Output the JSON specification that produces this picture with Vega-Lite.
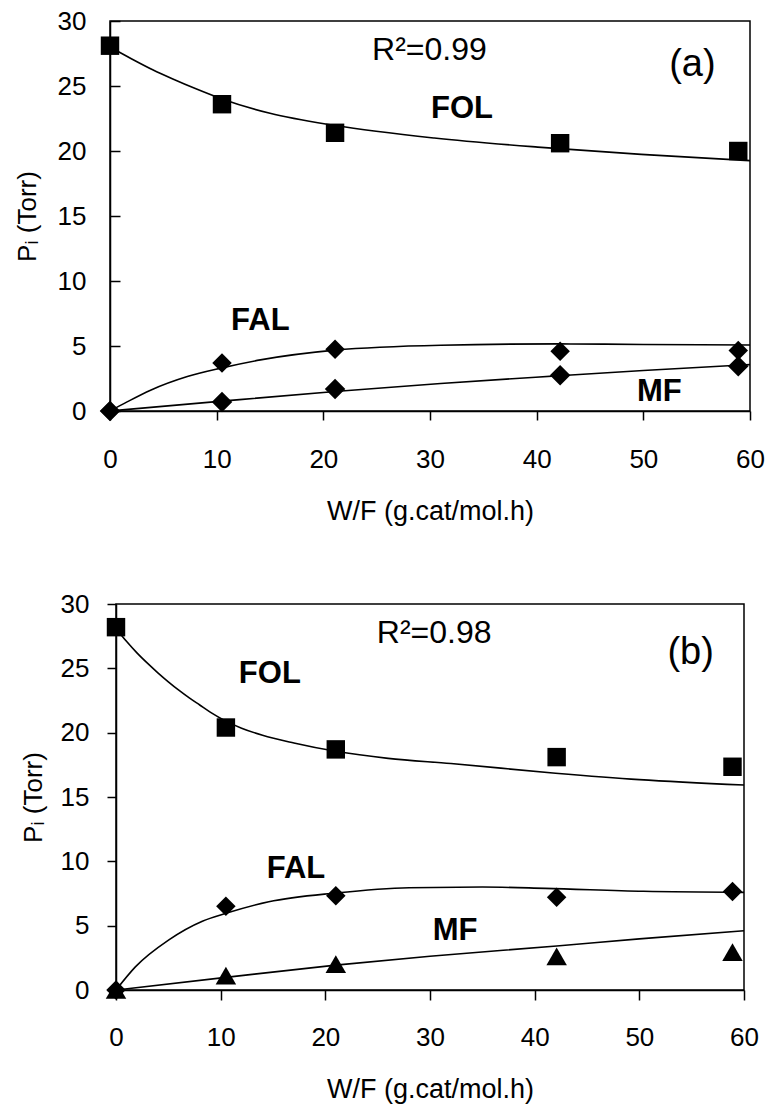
{
  "$schema": "https://vega.github.io/schema/vega-lite/v6.json",
  "background": "white",
  "padding": {"left": 13, "top": 7, "right": 5, "bottom": 5},
  "bounds": "flush",
  "center": true,
  "spacing": 193,
  "datasets": {
    "obs_a": [
      {"x": 0, "y": 28.1, "s": "FOL"}, {"x": 10.5, "y": 23.6, "s": "FOL"}, {"x": 21.1, "y": 21.4, "s": "FOL"}, {"x": 42.2, "y": 20.6, "s": "FOL"}, {"x": 58.9, "y": 20.0, "s": "FOL"},
      {"x": 0, "y": 0, "s": "FAL"}, {"x": 10.5, "y": 3.7, "s": "FAL"}, {"x": 21.1, "y": 4.75, "s": "FAL"}, {"x": 42.2, "y": 4.6, "s": "FAL"}, {"x": 58.9, "y": 4.65, "s": "FAL"},
      {"x": 0, "y": 0, "s": "MF"}, {"x": 10.5, "y": 0.7, "s": "MF"}, {"x": 21.1, "y": 1.7, "s": "MF"}, {"x": 42.2, "y": 2.75, "s": "MF"}, {"x": 58.9, "y": 3.45, "s": "MF"}
    ],
    "fit_a": [
      {"x": 0, "y": 28.0, "s": "FOL"}, {"x": 2, "y": 27.1, "s": "FOL"}, {"x": 4, "y": 26.25, "s": "FOL"}, {"x": 6, "y": 25.5, "s": "FOL"}, {"x": 8, "y": 24.8, "s": "FOL"}, {"x": 10.5, "y": 24.0, "s": "FOL"}, {"x": 15, "y": 22.9, "s": "FOL"}, {"x": 21.1, "y": 21.96, "s": "FOL"}, {"x": 30.4, "y": 21.0, "s": "FOL"}, {"x": 40.1, "y": 20.3, "s": "FOL"}, {"x": 49.8, "y": 19.74, "s": "FOL"}, {"x": 60, "y": 19.26, "s": "FOL"},
      {"x": 0, "y": 0, "s": "FAL"}, {"x": 1.6, "y": 0.7, "s": "FAL"}, {"x": 3.8, "y": 1.6, "s": "FAL"}, {"x": 7.25, "y": 2.65, "s": "FAL"}, {"x": 10.4, "y": 3.3, "s": "FAL"}, {"x": 14.1, "y": 3.93, "s": "FAL"}, {"x": 21.1, "y": 4.68, "s": "FAL"}, {"x": 31, "y": 5.06, "s": "FAL"}, {"x": 42.2, "y": 5.16, "s": "FAL"}, {"x": 50, "y": 5.12, "s": "FAL"}, {"x": 60, "y": 5.08, "s": "FAL"},
      {"x": 0, "y": 0, "s": "MF"}, {"x": 10.5, "y": 0.76, "s": "MF"}, {"x": 21.1, "y": 1.5, "s": "MF"}, {"x": 31, "y": 2.12, "s": "MF"}, {"x": 42.2, "y": 2.72, "s": "MF"}, {"x": 50, "y": 3.12, "s": "MF"}, {"x": 60, "y": 3.57, "s": "MF"}
    ],
    "lab_a": [
      {"x": 29.95, "y": 27.8, "t": "R²=0.99", "k": "r"},
      {"x": 54.6, "y": 26.6, "t": "(a)", "k": "p"},
      {"x": 33.0, "y": 23.25, "t": "FOL", "k": "b"},
      {"x": 14.1, "y": 6.93, "t": "FAL", "k": "b"},
      {"x": 51.5, "y": 1.5, "t": "MF", "k": "b"}
    ],
    "obs_b": [
      {"x": 0, "y": 28.2, "s": "FOL"}, {"x": 10.5, "y": 20.4, "s": "FOL"}, {"x": 21, "y": 18.7, "s": "FOL"}, {"x": 42.1, "y": 18.1, "s": "FOL"}, {"x": 58.9, "y": 17.35, "s": "FOL"},
      {"x": 0, "y": 0, "s": "FAL"}, {"x": 10.5, "y": 6.5, "s": "FAL"}, {"x": 21, "y": 7.33, "s": "FAL"}, {"x": 42.1, "y": 7.2, "s": "FAL"}, {"x": 58.9, "y": 7.66, "s": "FAL"},
      {"x": 0, "y": 0, "s": "MF"}, {"x": 10.5, "y": 1.11, "s": "MF"}, {"x": 21, "y": 2.02, "s": "MF"}, {"x": 42.1, "y": 2.62, "s": "MF"}, {"x": 58.9, "y": 2.95, "s": "MF"}
    ],
    "fit_b": [
      {"x": 0, "y": 28.1, "s": "FOL"}, {"x": 1, "y": 27.1, "s": "FOL"}, {"x": 2, "y": 26.2, "s": "FOL"}, {"x": 3, "y": 25.4, "s": "FOL"}, {"x": 4, "y": 24.65, "s": "FOL"}, {"x": 5, "y": 23.95, "s": "FOL"}, {"x": 6, "y": 23.3, "s": "FOL"}, {"x": 7, "y": 22.7, "s": "FOL"}, {"x": 8, "y": 22.15, "s": "FOL"}, {"x": 9, "y": 21.6, "s": "FOL"}, {"x": 10.5, "y": 20.9, "s": "FOL"}, {"x": 12, "y": 20.35, "s": "FOL"}, {"x": 14, "y": 19.8, "s": "FOL"}, {"x": 17, "y": 19.2, "s": "FOL"}, {"x": 21, "y": 18.55, "s": "FOL"}, {"x": 26, "y": 18.0, "s": "FOL"}, {"x": 32, "y": 17.6, "s": "FOL"}, {"x": 42, "y": 16.85, "s": "FOL"}, {"x": 50, "y": 16.35, "s": "FOL"}, {"x": 60, "y": 15.93, "s": "FOL"},
      {"x": 0, "y": 0, "s": "FAL"}, {"x": 1.85, "y": 1.8, "s": "FAL"}, {"x": 5.05, "y": 3.9, "s": "FAL"}, {"x": 8.25, "y": 5.35, "s": "FAL"}, {"x": 10.5, "y": 5.96, "s": "FAL"}, {"x": 14.6, "y": 6.86, "s": "FAL"}, {"x": 21, "y": 7.54, "s": "FAL"}, {"x": 28, "y": 7.95, "s": "FAL"}, {"x": 35, "y": 8.0, "s": "FAL"}, {"x": 41, "y": 7.9, "s": "FAL"}, {"x": 50.4, "y": 7.67, "s": "FAL"}, {"x": 60, "y": 7.59, "s": "FAL"},
      {"x": 0, "y": 0, "s": "MF"}, {"x": 10.5, "y": 0.98, "s": "MF"}, {"x": 21, "y": 1.93, "s": "MF"}, {"x": 30, "y": 2.62, "s": "MF"}, {"x": 42.1, "y": 3.42, "s": "MF"}, {"x": 50, "y": 3.97, "s": "MF"}, {"x": 60, "y": 4.61, "s": "MF"}
    ],
    "lab_b": [
      {"x": 30.4, "y": 27.75, "t": "R²=0.98", "k": "r"},
      {"x": 54.9, "y": 26.2, "t": "(b)", "k": "p"},
      {"x": 14.7, "y": 24.55, "t": "FOL", "k": "b"},
      {"x": 17.2, "y": 9.4, "t": "FAL", "k": "b"},
      {"x": 32.4, "y": 4.6, "t": "MF", "k": "b"}
    ]
  },
  "vconcat": [
    {
      "width": 640,
      "height": 390,
      "encoding": {
        "x": {"field": "x", "type": "quantitative", "scale": {"domain": [0, 60], "nice": false, "zero": false},
          "axis": {"values": [0, 10, 20, 30, 40, 50, 60], "title": "W/F (g.cat/mol.h)", "tickSize": 9, "labelPadding": 26, "titlePadding": 26, "titleFontSize": 27}},
        "y": {"field": "y", "type": "quantitative", "scale": {"domain": [0, 30], "nice": false, "zero": false},
          "axis": {"values": [0, 5, 10, 15, 20, 25, 30], "title": "Pᵢ (Torr)", "tickSize": -10, "labelPadding": 34, "titlePadding": 17}}
      },
      "layer": [
        {"data": {"name": "fit_a"}, "mark": {"type": "line", "interpolate": "monotone", "color": "black", "strokeWidth": 1.6}, "encoding": {"detail": {"field": "s"}}},
        {"data": {"name": "obs_a"}, "mark": {"type": "point", "filled": true, "opacity": 1, "color": "black"},
          "encoding": {
            "shape": {"field": "s", "scale": {"domain": ["FOL", "FAL", "MF"], "range": ["square", "diamond", "diamond"]}, "legend": null},
            "size": {"field": "s", "type": "nominal", "scale": {"domain": ["FOL", "FAL", "MF"], "range": [340, 420, 420]}, "legend": null}
          }},
        {"data": {"name": "lab_a"}, "transform": [{"filter": "datum.k == 'b'"}], "mark": {"type": "text", "fontWeight": "bold", "fontSize": 31, "font": "Liberation Sans", "color": "black", "align": "center", "baseline": "middle"}, "encoding": {"text": {"field": "t"}}},
        {"data": {"name": "lab_a"}, "transform": [{"filter": "datum.k == 'r'"}], "mark": {"type": "text", "fontSize": 32, "font": "Liberation Sans", "color": "black", "align": "center", "baseline": "middle"}, "encoding": {"text": {"field": "t"}}},
        {"data": {"name": "lab_a"}, "transform": [{"filter": "datum.k == 'p'"}], "mark": {"type": "text", "fontSize": 38, "font": "Liberation Sans", "color": "black", "align": "center", "baseline": "middle"}, "encoding": {"text": {"field": "t"}}}
      ]
    },
    {
      "width": 628,
      "height": 386,
      "encoding": {
        "x": {"field": "x", "type": "quantitative", "scale": {"domain": [0, 60], "nice": false, "zero": false},
          "axis": {"values": [0, 10, 20, 30, 40, 50, 60], "title": "W/F (g.cat/mol.h)", "tickSize": 10, "labelPadding": 24, "titlePadding": 26, "titleFontSize": 27}},
        "y": {"field": "y", "type": "quantitative", "scale": {"domain": [0, 30], "nice": false, "zero": false},
          "axis": {"values": [0, 5, 10, 15, 20, 25, 30], "title": "Pᵢ (Torr)", "tickSize": 9, "labelPadding": 18, "titlePadding": 14}}
      },
      "layer": [
        {"data": {"name": "fit_b"}, "mark": {"type": "line", "interpolate": "monotone", "color": "black", "strokeWidth": 1.6}, "encoding": {"detail": {"field": "s"}}},
        {"data": {"name": "obs_b"}, "mark": {"type": "point", "filled": true, "opacity": 1, "color": "black"},
          "encoding": {
            "shape": {"field": "s", "scale": {"domain": ["FOL", "FAL", "MF"], "range": ["square", "diamond", "triangle-up"]}, "legend": null},
            "size": {"field": "s", "type": "nominal", "scale": {"domain": ["FOL", "FAL", "MF"], "range": [340, 420, 460]}, "legend": null}
          }},
        {"data": {"name": "lab_b"}, "transform": [{"filter": "datum.k == 'b'"}], "mark": {"type": "text", "fontWeight": "bold", "fontSize": 31, "font": "Liberation Sans", "color": "black", "align": "center", "baseline": "middle"}, "encoding": {"text": {"field": "t"}}},
        {"data": {"name": "lab_b"}, "transform": [{"filter": "datum.k == 'r'"}], "mark": {"type": "text", "fontSize": 32, "font": "Liberation Sans", "color": "black", "align": "center", "baseline": "middle"}, "encoding": {"text": {"field": "t"}}},
        {"data": {"name": "lab_b"}, "transform": [{"filter": "datum.k == 'p'"}], "mark": {"type": "text", "fontSize": 38, "font": "Liberation Sans", "color": "black", "align": "center", "baseline": "middle"}, "encoding": {"text": {"field": "t"}}}
      ]
    }
  ],
  "resolve": {"scale": {"shape": "independent", "size": "independent"}},
  "config": {
    "font": "Liberation Sans",
    "view": {"stroke": "black", "strokeWidth": 1.5},
    "axis": {
      "grid": false, "domainColor": "black", "domainWidth": 1.5, "tickColor": "black", "tickWidth": 1.5,
      "labelColor": "black", "titleColor": "black", "labelFont": "Liberation Sans", "titleFont": "Liberation Sans",
      "labelFontSize": 26, "titleFontSize": 26, "titleFontWeight": "normal", "labelFlush": false, "labelOverlap": false, "labelBound": false
    }
  }
}
